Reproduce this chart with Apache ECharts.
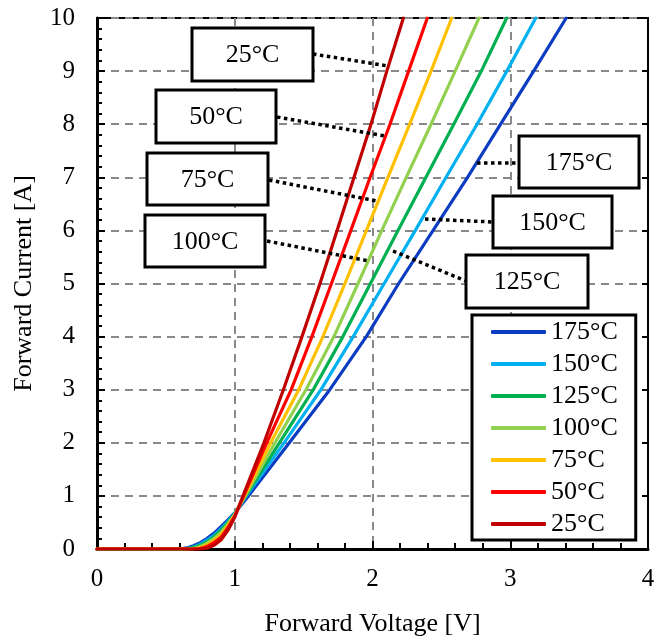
<!DOCTYPE html>
<html>
<head>
<meta charset="utf-8">
<script src="https://cdn.jsdelivr.net/npm/echarts@6/dist/echarts.min.js"></script>
<style>
html,body{margin:0;padding:0;background:#fff;}
#chart{width:668px;height:642px;}
</style>
</head>
<body>
<div id="chart"></div>
<script>
// ---- data (Forward Voltage [V], Forward Current [A]) ----
const seriesNames = ['175°C','150°C','125°C','100°C','75°C','50°C','25°C'];
const seriesColors = ['#0b3cc1','#00b0f0','#00b050','#92d050','#ffc000','#ff0000','#c00000'];
const s175 = [[0,0],[0.6,0],[0.65,0.02],[0.7,0.06],[0.75,0.12],[0.8,0.2],[0.85,0.3],[0.9,0.42],[0.95,0.55],[1.0,0.68],[1.1,1.0],[1.396,2],[1.69,3],[1.955,4],[2.19,5],[2.44,6],[2.69,7],[2.93,8],[3.17,9],[3.406,10]];
const s150 = [[0,0],[0.62,0],[0.67,0.02],[0.7,0.04],[0.75,0.09],[0.8,0.17],[0.85,0.26],[0.9,0.38],[0.95,0.52],[1.0,0.67],[1.085,1.0],[1.358,2],[1.626,3],[1.86,4],[2.085,5],[2.311,6],[2.534,7],[2.759,8],[2.975,9],[3.185,10]];
const s125 = [[0,0],[0.64,0],[0.7,0.03],[0.75,0.07],[0.8,0.14],[0.85,0.23],[0.9,0.35],[0.95,0.5],[1.0,0.66],[1.08,1.0],[1.324,2],[1.57,3],[1.785,4],[1.985,5],[2.185,6],[2.388,7],[2.59,8],[2.79,9],[2.974,10]];
const s100 = [[0,0],[0.67,0],[0.72,0.02],[0.75,0.05],[0.8,0.11],[0.85,0.2],[0.9,0.31],[0.95,0.47],[1.0,0.65],[1.075,1.0],[1.292,2],[1.517,3],[1.72,4],[1.895,5],[2.068,6],[2.245,7],[2.425,8],[2.6,9],[2.773,10]];
const s75 = [[0,0],[0.7,0],[0.75,0.02],[0.8,0.08],[0.85,0.16],[0.9,0.27],[0.95,0.44],[1.0,0.64],[1.07,1.0],[1.261,2],[1.465,3],[1.64,4],[1.8,5],[1.956,6],[2.112,7],[2.27,8],[2.425,9],[2.575,10]];
const s50 = [[0,0],[0.73,0],[0.77,0.02],[0.8,0.05],[0.85,0.12],[0.9,0.22],[0.95,0.4],[1.0,0.62],[1.065,1.0],[1.232,2],[1.41,3],[1.56,4],[1.702,5],[1.843,6],[1.983,7],[2.127,8],[2.262,9],[2.398,10]];
const s25 = [[0,0],[0.76,0],[0.8,0.02],[0.85,0.07],[0.9,0.17],[0.95,0.35],[1.0,0.6],[1.06,1.0],[1.212,2],[1.353,3],[1.488,4],[1.619,5],[1.743,6],[1.866,7],[1.989,8],[2.104,9],[2.224,10]];
const seriesData = [s175, s150, s125, s100, s75, s50, s25];
const xTitle = 'Forward Voltage [V]';
const yTitle = 'Forward Current [A]';

// annotation labels (text) and their leader lines
const callouts = [
  {text:'25°C',  box:[192,28,121,53],  line:[[313,54],[388,66]]},
  {text:'50°C',  box:[156,90,120,53],  line:[[277,117],[385,136]]},
  {text:'75°C',  box:[147,153,121,52], line:[[269,180],[377,201]]},
  {text:'100°C', box:[145,215,120,52], line:[[267,241],[369,261]]},
  {text:'175°C', box:[519,136,120,52], line:[[477,163],[519,163]]},
  {text:'150°C', box:[493,196,119,52], line:[[425,219],[493,222]]},
  {text:'125°C', box:[466,255,122,53], line:[[393,251],[466,281]]}
];

const FONT = 'Liberation Serif';
const chart = echarts.init(document.getElementById('chart'), null, {renderer:'canvas'});

const graphics = [];
callouts.forEach(c => {
  graphics.push({type:'polyline', z:50, shape:{points:c.line},
    style:{stroke:'#000', lineWidth:3.5, lineDash:[3.5,3.5], fill:null}});
});
callouts.forEach(c => {
  graphics.push({type:'rect', z:60, shape:{x:c.box[0], y:c.box[1], width:c.box[2], height:c.box[3]},
    style:{fill:'#fff', stroke:'#000', lineWidth:3}});
  graphics.push({type:'text', z:61, x:c.box[0]+c.box[2]/2, y:c.box[1]+c.box[3]/2+1,
    style:{text:c.text, font:'26px "' + FONT + '"', fill:'#000', align:'center', verticalAlign:'middle'}});
});

const option = {
  backgroundColor:'#fff',
  animation:false,
  grid:{left:97, top:18, right:20, bottom:92, show:true, borderColor:'#000', borderWidth:2, backgroundColor:'transparent'},
  legend:{
    show:true, orient:'vertical', left:472, top:315,
    data:seriesNames,
    icon:'roundRect', itemWidth:55, itemHeight:4, itemGap:0,
    padding:[1,18,0,19],
    borderColor:'#000', borderWidth:3, backgroundColor:'#fff',
    textStyle:{fontFamily:FONT, fontSize:26, color:'#000', lineHeight:32},
    z:70
  },
  xAxis:[{
    type:'value', min:0, max:4, interval:1,
    name:xTitle, nameLocation:'middle', nameGap:62,
    nameTextStyle:{fontFamily:FONT, fontSize:26, color:'#000'},
    axisLine:{show:true, onZero:false, lineStyle:{color:'#000', width:3}},
    axisTick:{show:true, inside:true, length:8, lineStyle:{color:'#000', width:2}},
    minorTick:{show:true, splitNumber:5, length:6, lineStyle:{color:'#000', width:2}},
    axisLabel:{fontFamily:FONT, fontSize:25, color:'#000', margin:18},
    splitLine:{show:true, lineStyle:{color:'#898989', width:2, type:[8,6]}}
  }],
  yAxis:[{
    type:'value', min:0, max:10, interval:1,
    name:yTitle, nameLocation:'middle', nameGap:60,
    nameTextStyle:{fontFamily:FONT, fontSize:26, color:'#000'},
    axisLine:{show:true, onZero:false, lineStyle:{color:'#000', width:3}},
    axisTick:{show:true, inside:true, length:8, lineStyle:{color:'#000', width:2}},
    minorTick:{show:true, splitNumber:5, length:5, lineStyle:{color:'#000', width:2}},
    axisLabel:{fontFamily:FONT, fontSize:25, color:'#000', margin:22},
    splitLine:{show:true, lineStyle:{color:'#898989', width:2, type:[8,6]}}
  },{
    type:'value', min:0, max:10, interval:1, position:'right',
    axisLine:{show:true, onZero:false, lineStyle:{color:'#000', width:2}},
    axisTick:{show:true, inside:true, length:6, lineStyle:{color:'#000', width:2}},
    axisLabel:{show:false}, splitLine:{show:false}
  }],
  series: seriesNames.map((n, i) => ({
    name:n, type:'line', data:seriesData[i],
    showSymbol:false, symbol:'none',
    smooth:false,
    lineStyle:{color:seriesColors[i], width:3.2, join:'round', cap:'round'},
    itemStyle:{color:seriesColors[i]},
    z:10+i
  })),
  graphic:graphics
};
chart.setOption(option);
</script>
</body>
</html>
